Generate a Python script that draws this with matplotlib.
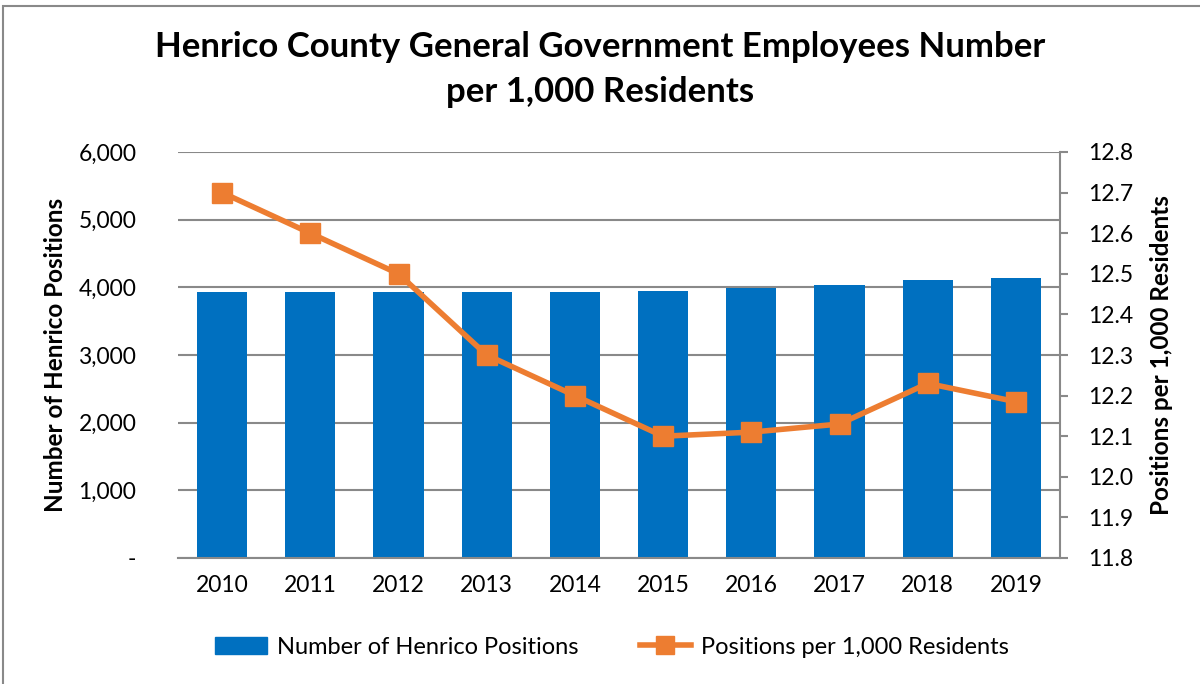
import matplotlib.pyplot as plt
from matplotlib.patches import Rectangle
from matplotlib.lines import Line2D

# Data
years = ["2010", "2011", "2012", "2013", "2014", "2015", "2016", "2017", "2018", "2019"]
positions = [3930, 3930, 3930, 3930, 3930, 3944, 3993, 4037, 4106, 4136]
per_1000 = [12.70, 12.60, 12.50, 12.30, 12.20, 12.10, 12.11, 12.13, 12.23, 12.185]
left_ticks = [0, 1000, 2000, 3000, 4000, 5000, 6000]
left_labels = ["-", "1,000", "2,000", "3,000", "4,000", "5,000", "6,000"]
right_ticks = [11.8, 11.9, 12.0, 12.1, 12.2, 12.3, 12.4, 12.5, 12.6, 12.7, 12.8]

BLUE = "#0070C0"
ORANGE = "#ED7D31"
GRID = "#898989"

plt.rcParams['font.family'] = ['Lato', 'DejaVu Sans']

fig = plt.figure(figsize=(12, 6.84), dpi=100)
ax = fig.add_axes([178 / 1200, 126 / 684, 882 / 1200, 406 / 684])

x = range(len(years))
ax.bar(x, positions, width=0.57, color=BLUE, zorder=2)
ax.set_xlim(-0.5, len(years) - 0.5)
ax.set_ylim(0, 6000)
ax.set_yticks(left_ticks)
ax.set_yticklabels(left_labels)
ax.set_xticks(list(x))
ax.set_xticklabels(years)
ax.yaxis.grid(True, color=GRID, linewidth=1.5, zorder=0)
ax.set_axisbelow(True)
ax.tick_params(axis="y", length=0, pad=30, labelsize=16.5)
ax.tick_params(axis="x", length=0, pad=12, labelsize=16.5)
for s in ["left", "top", "right"]:
    ax.spines[s].set_visible(False)
ax.spines["bottom"].set_color(GRID)
ax.spines["bottom"].set_linewidth(1.5)
ax.set_ylabel("Number of Henrico Positions", fontsize=17.5, fontweight="bold", labelpad=8)

ax2 = ax.twinx()
ax2.plot(list(x), per_1000, color=ORANGE, linewidth=4, marker="s", markersize=14,
         zorder=3)
ax2.set_ylim(11.8, 12.8)
ax2.set_yticks(right_ticks)
ax2.set_yticklabels([f"{t:.1f}" for t in right_ticks])
ax2.tick_params(axis="y", direction="out", length=6, width=1.5, color=GRID,
                pad=14, labelsize=16.5)
for s in ["left", "top", "bottom"]:
    ax2.spines[s].set_visible(False)
ax2.spines["right"].set_color(GRID)
ax2.spines["right"].set_linewidth(1.5)
ax2.set_ylabel("Positions per 1,000 Residents", fontsize=17.5, fontweight="bold",
               rotation=90, labelpad=12)

fig.suptitle("Henrico County General Government Employees Number\nper 1,000 Residents",
             fontsize=25, fontweight="bold", y=0.955, linespacing=1.5)

handles = [Rectangle((0, 0), 1, 1, color=BLUE),
           Line2D([], [], color=ORANGE, linewidth=4, marker="s", markersize=13)]
fig.legend(handles, ["Number of Henrico Positions", "Positions per 1,000 Residents"],
           loc="center", bbox_to_anchor=(0.51, 1 - 647 / 684), ncol=2, frameon=False,
           fontsize=17, handlelength=2.2, columnspacing=2.6, handletextpad=0.4)

fig.patches.append(Rectangle((3 / 1200, -0.1), 1.2, 1.1 - 6 / 684, transform=fig.transFigure,
                             fill=False, edgecolor=GRID, linewidth=1.5))

fig.savefig("out.png", dpi=100)
